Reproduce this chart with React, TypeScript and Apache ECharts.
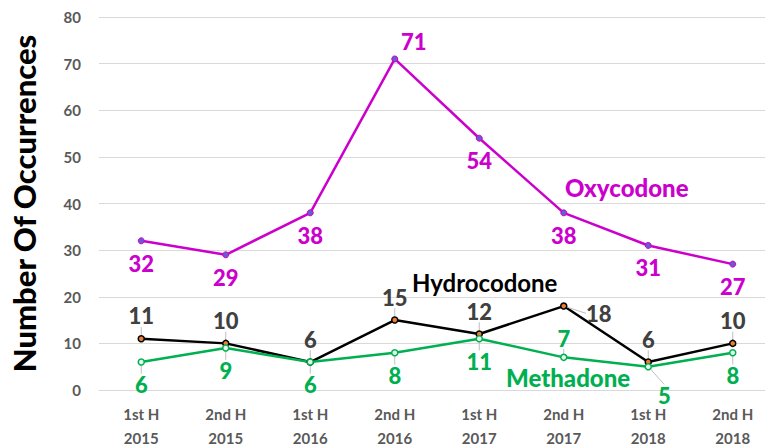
import React, { useEffect, useRef } from "react";
import * as echarts from "echarts";

const categories = ["1st H\n2015", "2nd H\n2015", "1st H\n2016", "2nd H\n2016", "1st H\n2017", "2nd H\n2017", "1st H\n2018", "2nd H\n2018"];
const oxycodone = [32, 29, 38, 71, 54, 38, 31, 27];
const hydrocodone = [11, 10, 6, 15, 12, 18, 6, 10];
const methadone = [6, 9, 6, 8, 11, 7, 5, 8];
const yTicks = { min: 0, max: 80, interval: 10 };

const FONT = "Lato, 'Open Sans', sans-serif";
const MAGENTA = "#CC00CC";
const GREEN = "#00B050";

export default function App() {
  const ref = useRef<HTMLDivElement>(null);
  useEffect(() => {
    document.body.style.margin = "0";
    const chart = echarts.init(ref.current!, null, { renderer: "svg" });
    const labelBase = { show: true, fontFamily: FONT, fontWeight: 900, fontSize: 22 };
    chart.setOption({
      animation: false,
      textStyle: { fontFamily: FONT },
      grid: { left: 99, top: 17, width: 676, height: 373, outerBoundsMode: "none", containLabel: false },
      xAxis: {
        type: "category",
        data: categories,
        axisLine: { lineStyle: { color: "#d9d9d9" } },
        axisTick: { show: false },
        axisLabel: { color: "#595959", fontWeight: "bold", fontSize: 15, lineHeight: 24, margin: 12, fontFamily: FONT },
      },
      yAxis: {
        type: "value",
        min: yTicks.min,
        max: yTicks.max,
        interval: yTicks.interval,
        name: "Number Of Occurrences",
        nameLocation: "middle",
        nameGap: 60,
        nameTextStyle: { color: "#000", fontWeight: 900, fontSize: 31, fontFamily: FONT },
        axisLine: { show: false },
        axisTick: { show: false },
        splitLine: { lineStyle: { color: "#d9d9d9", width: 1 } },
        axisLabel: { color: "#595959", fontWeight: "bold", fontSize: 15, margin: 18, fontFamily: FONT },
      },
      series: [
        {
          name: "Oxycodone",
          type: "line",
          data: oxycodone,
          symbol: "circle",
          symbolSize: 6,
          lineStyle: { color: MAGENTA, width: 2.5 },
          itemStyle: { color: "#6a5acd", borderColor: MAGENTA, borderWidth: 1 },
          label: {
            ...labelBase,
            color: MAGENTA,
            position: "bottom",
            distance: 8,
          },
          labelLayout: (p: any) => (p.dataIndex === 3 ? { dx: 19, dy: -40 } : {}),
        },
        {
          name: "Hydrocodone",
          type: "line",
          data: hydrocodone,
          symbol: "circle",
          symbolSize: 6,
          lineStyle: { color: "#000", width: 2.5 },
          itemStyle: { color: "#ED7D31", borderColor: "#000", borderWidth: 1.5 },
          label: { ...labelBase, color: "#404040", position: "top", distance: 8 },
          labelLayout: (p: any) => (p.dataIndex === 5 ? { dx: 35, dy: 30 } : {}),
          labelLine: { show: true, lineStyle: { color: "#bfbfbf", width: 1 } },
        },
        {
          name: "Methadone",
          type: "line",
          data: methadone,
          symbol: "circle",
          symbolSize: 6,
          lineStyle: { color: GREEN, width: 2.5 },
          itemStyle: { color: "#e6f7ec", borderColor: GREEN, borderWidth: 1.5 },
          label: { ...labelBase, color: GREEN, position: "bottom", distance: 8 },
          labelLayout: (p: any) =>
            p.dataIndex === 5 ? { dy: -42 } : p.dataIndex === 6 ? { dx: 16, dy: 6 } : {},
          labelLine: { show: true, lineStyle: { color: "#bfbfbf", width: 1 } },
        },
      ],
      graphic: [
        { type: "text", left: 565, top: 175, style: { text: "Oxycodone", fill: MAGENTA, font: `900 24px ${FONT}` } },
        { type: "text", left: 412, top: 270, style: { text: "Hydrocodone", fill: "#000", font: `bold 24px ${FONT}` } },
        { type: "text", left: 506, top: 365, style: { text: "Methadone", fill: GREEN, font: `900 24px ${FONT}` } },
      ],
    });
    return () => chart.dispose();
  }, []);
  return <div ref={ref} style={{ width: 765, height: 447 }} />;
}
